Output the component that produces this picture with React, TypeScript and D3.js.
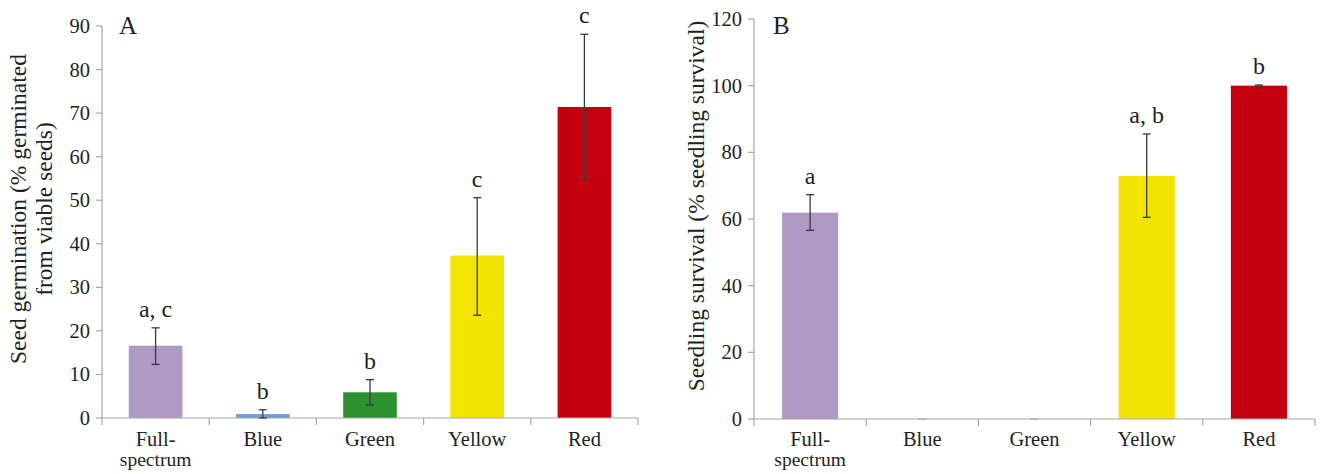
import React from "react";
import * as d3 from "d3";

const categories = ["Full-spectrum", "Blue", "Green", "Yellow", "Red"];
const catLines = [["Full-", "spectrum"], ["Blue"], ["Green"], ["Yellow"], ["Red"]];
const colors = ["#ae9ac3", "#6b9fd3", "#2b922f", "#f3e400", "#c4000f"];

const germMean = [16.6, 0.9, 5.9, 37.3, 71.4];
const germLow = [12.3, 0.0, 3.0, 23.6, 54.6];
const germHigh = [20.7, 1.9, 8.8, 50.6, 88.1];
const germLetters = ["a, c", "b", "b", "c", "c"];
const germTicks = [0, 10, 20, 30, 40, 50, 60, 70, 80, 90];

const survMean = [61.9, 0, 0, 72.9, 100];
const survLow = [56.6, 0, 0, 60.5, 99.8];
const survHigh = [67.3, 0, 0, 85.5, 100.2];
const survLetters = ["a", "", "", "a, b", "b"];
const survTicks = [0, 20, 40, 60, 80, 100, 120];

const TXT = "#231f20";
const AX = "#a6a6a6";
const FONT = "'Liberation Serif', 'Times New Roman', serif";

type PanelProps = {
  x0: number; x1: number; yBase: number; yTopPx: number; yMax: number;
  ticks: number[]; mean: number[]; low: number[]; high: number[]; letters: string[];
  label: string; labelX: number; title: string[]; titleX: number[]; titleCY: number;
};

function Panel(p: PanelProps) {
  const x = d3.scaleBand<string>().domain(categories).range([p.x0, p.x1]).paddingInner(0.5).paddingOuter(0.25);
  const band = d3.scaleBand<string>().domain(categories).range([p.x0, p.x1]).padding(0);
  const y = d3.scaleLinear().domain([0, p.yMax]).range([p.yBase, p.yTopPx]);
  const bw = x.bandwidth();
  const boundaries = categories.map((c) => band(c)!).concat([p.x1]);
  return (
    <g fontFamily={FONT} fill={TXT}>
      {categories.map((c, i) => (
        p.mean[i] > 0 ? (
          <rect key={c} x={x(c)!} y={y(p.mean[i])} width={bw} height={y(0) - y(p.mean[i])} fill={colors[i]} />
        ) : null
      ))}
      <line x1={p.x0} x2={p.x0} y1={p.yBase} y2={p.yTopPx} stroke={AX} strokeWidth={1.2} />
      <line x1={p.x0} x2={p.x1} y1={p.yBase} y2={p.yBase} stroke={AX} strokeWidth={1.2} />
      {p.ticks.map((t) => (
        <g key={t}>
          <line x1={p.x0 - 6} x2={p.x0} y1={y(t)} y2={y(t)} stroke={AX} strokeWidth={1.2} />
          <text x={p.x0 - 12} y={y(t) + 7} textAnchor="end" fontSize={20.5}>{t}</text>
        </g>
      ))}
      {boundaries.map((bx, i) => (
        <line key={i} x1={bx} x2={bx} y1={p.yBase} y2={p.yBase + 7} stroke={AX} strokeWidth={1.2} />
      ))}
      {categories.map((c, i) => {
        const cx = x(c)! + bw / 2;
        const zero = p.high[i] === 0;
        const st = zero ? "#b4b4b4" : "#3a3a3a";
        return (
          <g key={c} stroke={st} strokeWidth={zero ? 2 : 1.3}>
            {!zero && <line x1={cx} x2={cx} y1={y(p.low[i])} y2={y(p.high[i])} />}
            <line x1={cx - 4} x2={cx + 4} y1={y(p.high[i])} y2={y(p.high[i])} />
            {!zero && <line x1={cx - 4} x2={cx + 4} y1={y(p.low[i])} y2={y(p.low[i])} />}
          </g>
        );
      })}
      {categories.map((c, i) => (
        p.letters[i] ? (
          <text key={c} x={x(c)! + bw / 2} y={y(p.high[i]) - 11} textAnchor="middle" fontSize={24}>{p.letters[i]}</text>
        ) : null
      ))}
      {categories.map((c, i) => (
        catLines[i].map((l, j) => (
          <text key={c + j} x={x(c)! + bw / 2} y={446 + j * 20} textAnchor="middle" fontSize={j === 0 ? 20.5 : 19.5}>{l}</text>
        ))
      ))}
      <text x={p.labelX} y={34} fontSize={25}>{p.label}</text>
      {p.title.map((t, j) => (
        <text key={j} transform={`translate(${p.titleX[j]},${p.titleCY}) rotate(-90)`} textAnchor="middle" fontSize={23.5}>{t}</text>
      ))}
    </g>
  );
}

export default function App() {
  return (
    <svg width={1320} height={474} style={{ position: "absolute", left: 0, top: 0, background: "#fff" }}>
      <rect x={0} y={0} width={1320} height={474} fill="#fff" />
      <Panel x0={102} x1={638} yBase={418} yTopPx={26} yMax={90} ticks={germTicks}
        mean={germMean} low={germLow} high={germHigh} letters={germLetters}
        label="A" labelX={119} title={["Seed germination (% germinated", "from viable seeds)"]}
        titleX={[26, 52]} titleCY={209} />
      <Panel x0={754} x1={1315} yBase={419} yTopPx={19} yMax={120} ticks={survTicks}
        mean={survMean} low={survLow} high={survHigh} letters={survLetters}
        label="B" labelX={773} title={["Seedling survival (% seedling survival)"]}
        titleX={[704]} titleCY={206} />
    </svg>
  );
}
